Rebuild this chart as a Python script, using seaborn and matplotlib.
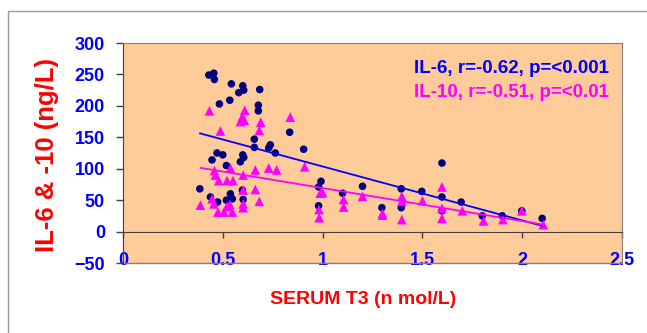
import matplotlib
matplotlib.use('Agg')
import matplotlib.pyplot as plt
from matplotlib.lines import Line2D
import seaborn as sns
import numpy as np
import pandas as pd

# IL-6 values (navy dots)
il6_t3 = [0.43, 0.455, 0.458, 0.543, 0.60, 0.605, 0.58, 0.685, 0.483, 0.535,
          0.678, 0.678, 0.835, 0.658, 0.738, 0.73, 0.658, 0.763, 0.905, 0.471,
          0.50, 0.446, 0.60, 0.605, 0.588, 0.518, 0.385, 0.438, 0.474, 0.538,
          0.518, 0.548, 0.598, 0.602, 0.98, 0.992, 0.98, 1.10, 1.20, 1.297,
          1.394, 1.394, 1.497, 1.598, 1.598, 1.598, 1.694, 1.80, 1.90, 1.998, 2.10]
il6_val = [249, 252, 242, 235, 232, 225, 221, 226, 203, 209,
           201, 192, 158, 147, 138, 133, 134, 125, 131, 125,
           122, 114, 122, 118, 111, 105, 68, 55, 47, 60,
           50, 52, 66, 51, 71, 80, 41, 61, 72, 38,
           68, 38, 64, 109, 55, 33, 47, 25, 25, 33, 21]

# IL-10 values (magenta triangles)
il10_t3 = [0.433, 0.61, 0.597, 0.588, 0.608, 0.69, 0.488, 0.683, 0.838, 0.458,
           0.463, 0.48, 0.538, 0.521, 0.551, 0.602, 0.663, 0.73, 0.77, 0.602,
           0.663, 0.683, 0.446, 0.455, 0.388, 0.476, 0.506, 0.548, 0.535, 0.521,
           0.602, 0.602, 0.91, 0.988, 1.0, 0.982, 0.983, 1.105, 1.105, 1.20,
           1.30, 1.30, 1.397, 1.397, 1.397, 1.50, 1.598, 1.598, 1.598, 1.70,
           1.806, 1.903, 1.998, 2.106]
il10_val = [192, 193, 182, 175, 177, 174, 160, 161, 182, 97,
            90, 81, 101, 81, 81, 90, 98, 101, 98, 66,
            67, 48, 52, 44, 42, 31, 31, 31, 43, 40,
            44, 38, 103, 61, 62, 35, 22, 51, 39, 56,
            29, 26, 56, 48, 19, 49, 71, 37, 21, 33,
            17, 19, 33, 11]

x_ticks = [0, 0.5, 1, 1.5, 2, 2.5]
x_tick_labels = ['0', '0.5', '1', '1.5', '2', '2.5']
y_ticks = [-50, 0, 50, 100, 150, 200, 250, 300]

il6_label = 'IL-6, r=-0.62, p=<0.001'
il10_label = 'IL-10, r=-0.51, p=<0.01'

df6 = pd.DataFrame({'t3': il6_t3, 'val': il6_val})
df10 = pd.DataFrame({'t3': il10_t3, 'val': il10_val})

sns.set_style('ticks')
plt.rcParams['font.family'] = ['Liberation Sans', 'DejaVu Sans']

fig = plt.figure(figsize=(6.47, 3.33), dpi=100)
ax = fig.add_axes([123 / 647, 1 - 263 / 333, 499 / 647, 220 / 333])
ax.set_facecolor('#FFCC99')

sns.scatterplot(data=df6, x='t3', y='val', ax=ax, color='#000080', marker='o',
                s=30, edgecolor='none', zorder=3)
sns.scatterplot(data=df10, x='t3', y='val', ax=ax, color='#FF00FF', marker='^',
                s=48, edgecolor='none', zorder=4)
sns.regplot(data=df6, x='t3', y='val', ax=ax, scatter=False, ci=None, truncate=True,
            line_kws={'color': '#0000FF', 'lw': 1.3, 'zorder': 5})
sns.regplot(data=df10, x='t3', y='val', ax=ax, scatter=False, ci=None, truncate=True,
            line_kws={'color': '#FF00FF', 'lw': 1.3, 'zorder': 5})

ax.set_xlim(0, 2.5)
ax.set_ylim(-50, 300)
ax.set_xticks(x_ticks)
ax.set_xticklabels(x_tick_labels)
ax.set_yticks(y_ticks)
ax.set_xlabel('')
ax.set_ylabel('')

# x axis crosses at zero, labels sit at the bottom
ax.spines['bottom'].set_position(('data', 0))
ax.spines['bottom'].set_color('#404040')
ax.spines['left'].set_color('#404040')
for s in ['top', 'right']:
    ax.spines[s].set_visible(True)
    ax.spines[s].set_color('#808080')
ax.plot([0, 1], [0, 0], transform=ax.transAxes, color='#808080', lw=1, clip_on=False)

ax.tick_params(axis='x', direction='out', length=4, width=1, color='#404040', pad=11,
               labelsize=13, labelcolor='#0000FF')
ax.tick_params(axis='y', direction='out', length=5, width=1, color='#404040', pad=8,
               labelsize=13, labelcolor='#0000FF')
for lab in ax.get_xticklabels() + ax.get_yticklabels():
    lab.set_fontweight('bold')

ax.text(0.974, 0.886, il6_label, transform=ax.transAxes, ha='right', va='center',
        color='#0000FF', fontsize=13.5, fontweight='bold')
ax.text(0.974, 0.773, il10_label, transform=ax.transAxes, ha='right', va='center',
        color='#FF00FF', fontsize=13.5, fontweight='bold')

fig.text(47 / 647, 1 - 155 / 333, 'IL-6 & -10 (ng/L)', rotation=90, ha='center',
         va='center', color='#FF0000', fontsize=18.5, fontweight='bold')
fig.text(363 / 647, 1 - 299 / 333, 'SERUM T3 (n mol/L)', ha='center', va='center',
         color='#FF0000', fontsize=14, fontweight='bold')

# outer chart frame
fig.add_artist(Line2D([8 / 647, 8 / 647], [0, 1 - 11 / 333], color='#999999', lw=1))
fig.add_artist(Line2D([8 / 647, 1], [1 - 11 / 333, 1 - 11 / 333], color='#999999', lw=1))

fig.savefig('out.png', dpi=100)
